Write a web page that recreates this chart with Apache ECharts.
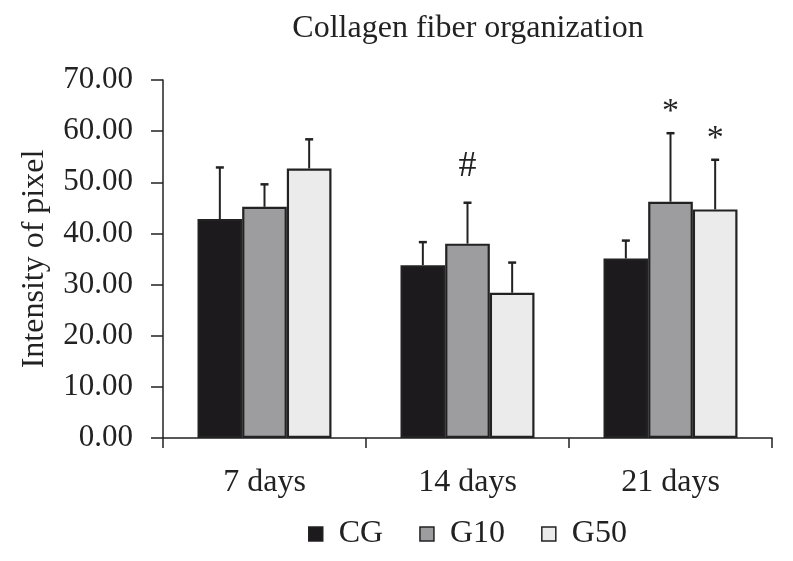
<!DOCTYPE html>
<html><head><meta charset="utf-8">
<script src="https://cdn.jsdelivr.net/npm/echarts@6/dist/echarts.min.js"></script>
<style>html,body{margin:0;padding:0;background:#fff}#c{width:793px;height:561px}</style>
</head><body><div id="c"></div>
<script>
var categories = ['7 days', '14 days', '21 days'];
var seriesNames = ['CG', 'G10', 'G50'];
var cgValues = [42.8, 33.8, 35.1];
var g10Values = [45.2, 38.0, 46.2];
var g50Values = [52.7, 28.4, 44.7];
var cgErr = [10.1, 4.5, 3.5];
var g10Err = [4.4, 8.0, 13.4];
var g50Err = [5.7, 5.9, 9.7];
var g10Marks = ['', '#', '*'];
var g50Marks = ['', '', '*'];
var cgMarks = ['', '', ''];
var yTicks = [0, 10, 20, 30, 40, 50, 60, 70];

var colors = ['#1c1a1d', '#9d9d9f', '#ebebeb'];
var font = 'Liberation Serif';
var chart = echarts.init(document.getElementById('c'));
var vals = [cgValues, g10Values, g50Values];
var errs = [cgErr, g10Err, g50Err];
var marks = [cgMarks, g10Marks, g50Marks];
var BW = 0.22;

var series = [];
seriesNames.forEach(function (n, i) {
  series.push({
    name: n, type: 'bar', data: vals[i], barWidth: (BW * 100) + '%', barGap: '0%',
    itemStyle: { color: colors[i], borderColor: '#222', borderWidth: 2.2 },
    z: 2
  });
});
seriesNames.forEach(function (n, i) {
  series.push({
    type: 'custom', z: 3, silent: true,
    data: vals[i].map(function (v, k) { return [k, v, errs[i][k]]; }),
    renderItem: function (params, api) {
      var k = api.value(0), v = api.value(1), e = api.value(2);
      var band = api.size([1, 0])[0];
      var w = band * BW;
      var base = api.coord([k, v]);
      var x = base[0] + (i - 1) * w;
      var top = api.coord([k, v + e])[1];
      var children = [
        { type: 'line', shape: { x1: x, y1: base[1], x2: x, y2: top }, style: { stroke: '#222', lineWidth: 2 } },
        { type: 'line', shape: { x1: x - 4, y1: top, x2: x + 4, y2: top }, style: { stroke: '#222', lineWidth: 2.5 } }
      ];
      var m = marks[i][k];
      if (m) {
        var isHash = m === '#';
        children.push({ type: 'text', style: { text: m, x: x, y: top - (isHash ? 18 : 4), align: 'center', verticalAlign: 'bottom',
          font: (isHash ? '36px' : '34px') + ' "' + font + '"', fill: '#222' } });
      }
      return { type: 'group', children: children };
    }
  });
});

chart.setOption({
  animation: false,
  title: { text: 'Collagen fiber organization', left: 463, top: 8, textAlign: 'center',
    textStyle: { fontFamily: font, fontSize: 32, fontWeight: 'normal', color: '#222' } },
  legend: { data: seriesNames, top: 513, left: 303, icon: 'rect', itemWidth: 14, itemHeight: 14, itemGap: 36,
    itemStyle: { borderColor: '#222', borderWidth: 1.5 },
    textStyle: { fontFamily: font, fontSize: 32, color: '#222', padding: [0, 0, 0, 11] } },
  grid: { left: 163, right: 21, top: 80, bottom: 123 },
  xAxis: { type: 'category', data: categories,
    axisLine: { lineStyle: { color: '#222', width: 1.5 } },
    axisTick: { show: true, length: 10, lineStyle: { color: '#222', width: 1.5 } },
    axisLabel: { fontFamily: font, fontSize: 32, color: '#222', margin: 29 } },
  yAxis: { type: 'value', min: 0, max: 70, interval: 10,
    name: 'Intensity of pixel', nameLocation: 'middle', nameGap: 112, nameRotate: 90,
    nameTextStyle: { fontFamily: font, fontSize: 32, color: '#222' },
    axisLine: { show: true, lineStyle: { color: '#222', width: 1.5 } },
    axisTick: { show: true, length: 12, lineStyle: { color: '#222', width: 1.5 } },
    splitLine: { show: false },
    axisLabel: { fontFamily: font, fontSize: 31, color: '#222', margin: 30,
      customValues: yTicks,
      formatter: function (v) { return v.toFixed(2); } } },
  series: series
});
</script></body></html>
